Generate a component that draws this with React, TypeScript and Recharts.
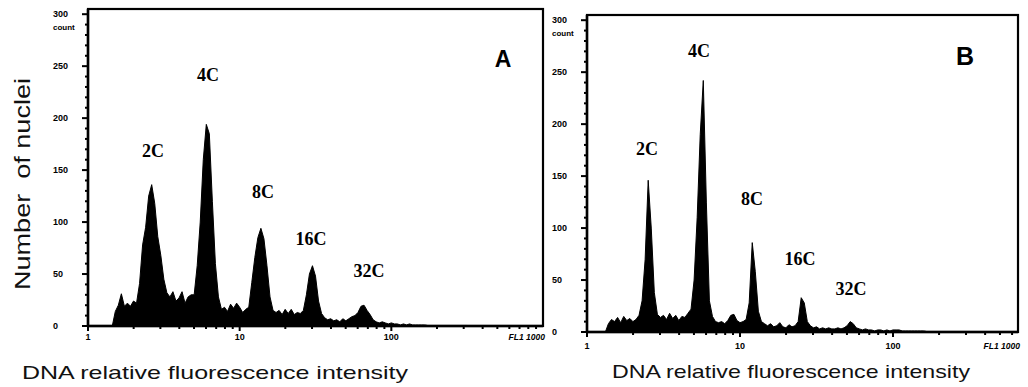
import React from 'react'
import { AreaChart, Area, XAxis, YAxis } from 'recharts'

// histogram channels: 50 log bins per decade, bin 0 = FL1 1
const BINS_PER_DECADE = 50

// panel A counts per bin
const countsA = [
  0, 0, 0, 0, 0, 0, 0, 0, 0, 14,
  20, 31, 19, 22, 19, 24, 22, 41, 78, 95,
  125, 136, 118, 86, 68, 45, 32, 28, 33, 24,
  27, 33, 22, 28, 30, 30, 58, 100, 160, 194,
  185, 120, 60, 28, 16, 18, 14, 21, 17, 22,
  18, 13, 16, 18, 42, 66, 85, 94, 84, 58,
  28, 15, 13, 15, 11, 16, 12, 16, 11, 13,
  12, 15, 30, 50, 58, 48, 24, 12, 8, 6,
  7, 5, 6, 4, 7, 5, 7, 9, 10, 13,
  19, 20, 15, 11, 6, 4, 3, 4, 3, 2,
  3, 2, 2, 1, 2, 1, 2, 1, 1, 1,
  1, 1, 0.5, 0.5, 0.5, 0.5, 0.5, 0.5, 0.5, 0.5,
  0.5, 0.5, 0.5, 0.5, 0.5, 0.5, 0, 0, 0, 0,
  0, 0, 0, 0, 0, 0, 0, 0, 0, 0,
  0, 0, 0, 0, 0, 0, 0, 0, 0, 0, 0,
]

// panel B counts per bin
const countsB = [
  0, 0, 0, 0, 0, 0, 0, 8, 12, 10,
  14, 9, 15, 11, 13, 10, 12, 16, 30, 70,
  146, 100, 38, 17, 14, 16, 12, 18, 13, 16,
  11, 15, 14, 18, 22, 50, 110, 190, 242, 125,
  30, 15, 10, 9, 10, 8, 11, 16, 17, 11,
  9, 10, 12, 28, 86, 58, 20, 10, 8, 6,
  8, 5, 6, 9, 5, 4, 7, 5, 6, 10,
  33, 28, 10, 6, 4, 5, 3, 4, 3, 4,
  3, 3, 4, 3, 4, 6, 10, 8, 4, 3,
  2, 3, 2, 2, 1, 2, 2, 1, 2, 1,
  2, 2, 2, 1, 1, 1, 1, 1, 1, 1,
  1, 0.5, 0.5, 0.5, 0.5, 0.5, 0.5, 0.5, 0.5, 0.5,
  0.5, 0.5, 0.5, 0.5, 0.5, 0.5, 0, 0, 0, 0,
  0, 0, 0, 0, 0, 0, 0, 0, 0, 0, 0,
]

const yTicks = [0, 10, 20, 30, 40, 50, 60, 70, 80, 90, 100, 110, 120, 130, 140, 150, 160, 170, 180, 190, 200, 210, 220, 230, 240, 250, 260, 270, 280, 290, 300]
const xTicksA = [1, 2, 3, 4, 5, 6, 7, 8, 9, 10, 20, 30, 40, 50, 60, 70, 80, 90, 100, 200, 300, 400, 500, 600, 700, 800, 900, 1000]
const B_MAX = 656
const xTicksB = [1, 2, 3, 4, 5, 6, 7, 8, 9, 10, 20, 30, 40, 50, 60, 70, 80, 90, 100, 200, 300, 400, 500, 600, B_MAX]
const decadeLabels = [1, 10, 100]
const Y_MAX = 305

const toRows = (counts: number[]) => counts.map((c, i) => ({ fl: 10 ** (i / BINS_PER_DECADE), count: c }))
const dataA = toRows(countsA)
const dataB = toRows(countsB)

const H = 387
const Y_AXIS_W = 40
const X_AXIS_H = 20
const panelA = { left: 0, width: 560, margin: { top: 9, right: 17, left: 48, bottom: 41 }, xMax: 1000, xTicks: xTicksA, labelDy: 14 }
const panelB = { left: 520, width: 508, margin: { top: 15, right: 10, left: 27, bottom: 35 }, xMax: B_MAX, xTicks: xTicksB, labelDy: 17 }

const tickFont = 'Liberation Sans, Arial, sans-serif'

const yTick = (axisX: number) => (props: any) => {
  const { y, payload } = props
  const v = payload.value
  const major = v % 50 === 0
  const len = major ? 6 : 3
  return (
    <g>
      <rect x={axisX - len} y={y - 1} width={len} height={2} fill="#000" />
      {major && (
        <text x={axisX - 35} y={y + 3} fontSize={9} fontWeight="bold" fontFamily={tickFont} fill="#000">{v}</text>
      )}
      {v === 300 && (
        <text x={axisX - 35} y={y + 16} fontSize={8} fontWeight="bold" fontFamily={tickFont} fill="#000">count</text>
      )}
    </g>
  )
}

const xTick = (axisY: number, labelDy: number, maxV: number) => (props: any) => {
  const { x, payload } = props
  const v = payload.value
  const major = decadeLabels.includes(v)
  if (v === maxV) {
    return (
      <g>
        <text x={x + 2} y={axisY + labelDy} textAnchor="end" fontSize={8.5} fontWeight="bold" fontStyle="italic" fontFamily={tickFont} fill="#000">FL1 1000</text>
      </g>
    )
  }
  return (
    <g>
      <rect x={x - 1} y={axisY} width={2} height={major ? 5 : 3} fill="#000" />
      {major && (
        <text x={x} y={axisY + labelDy} textAnchor="middle" fontSize={9} fontWeight="bold" fontFamily={tickFont} fill="#000">{v}</text>
      )}
    </g>
  )
}

type PanelCfg = typeof panelA

function Panel({ cfg, data }: { cfg: PanelCfg; data: { fl: number; count: number }[] }) {
  const { left, width, margin, xMax, xTicks, labelDy } = cfg
  const axisX = margin.left + Y_AXIS_W
  const axisY = H - margin.bottom - X_AXIS_H
  return (
    <div style={{ position: 'absolute', left, top: 0 }}>
      <AreaChart width={width} height={H} data={data} margin={margin}>
        <XAxis
          type="number" dataKey="fl" scale="log" domain={[1, xMax]} allowDataOverflow
          ticks={xTicks} interval={0} tickSize={0} tickMargin={0} height={X_AXIS_H}
          tickLine={false} axisLine={{ stroke: '#000', strokeWidth: 2.5 }}
          tick={xTick(axisY, labelDy, xMax)}
        />
        <YAxis
          type="number" domain={[0, Y_MAX]} ticks={yTicks} interval={0}
          width={Y_AXIS_W} tickSize={0} tickMargin={0} tickLine={false}
          axisLine={{ stroke: '#000', strokeWidth: 2.5 }} tick={yTick(axisX)}
        />
        <Area
          type="linear" dataKey="count" stroke="#000" strokeWidth={1} fill="#000" fillOpacity={1}
          dot={false} activeDot={false} isAnimationActive={false}
        />
      </AreaChart>
    </div>
  )
}

// plot frame drawn from the same layout constants as the charts
function Frame({ cfg }: { cfg: PanelCfg }) {
  const x0 = cfg.left + cfg.margin.left + Y_AXIS_W
  const x1 = cfg.left + cfg.width - cfg.margin.right
  const y0 = cfg.margin.top
  const y1 = H - cfg.margin.bottom - X_AXIS_H
  return (
    <rect x={x0} y={y0} width={x1 - x0} height={y1 - y0} fill="none" stroke="#000" strokeWidth={2.2} />
  )
}

const titleFont = 'Liberation Sans, Arial, sans-serif'
const peakFont = 'Liberation Serif, Times New Roman, serif'

export default function App() {
  return (
    <div style={{ position: 'absolute', left: 0, top: 0, width: 1028, height: H }}>
      <Panel cfg={panelA} data={dataA} />
      <Panel cfg={panelB} data={dataB} />
      <svg width={1028} height={H} style={{ position: 'absolute', left: 0, top: 0, pointerEvents: 'none' }}>
        <Frame cfg={panelA} />
        <Frame cfg={panelB} />
        <text transform="translate(30,290) rotate(-90)" fontSize={22} fontFamily={titleFont} fill="#111"
          textLength={212} lengthAdjust="spacingAndGlyphs" xmlSpace="preserve">Number  of nuclei</text>
        <text x={22} y={379} fontSize={18.5} fontFamily={titleFont} fill="#111" textLength={386} lengthAdjust="spacingAndGlyphs">DNA relative fluorescence intensity</text>
        <text x={612} y={378} fontSize={18.5} fontFamily={titleFont} fill="#111" textLength={358} lengthAdjust="spacingAndGlyphs">DNA relative fluorescence intensity</text>

        <g fontFamily={peakFont} fontWeight="bold" fontSize={18} fill="#000" textAnchor="middle">
          <text x={153} y={157}>2C</text>
          <text x={208} y={81}>4C</text>
          <text x={263} y={198}>8C</text>
          <text x={311} y={245}>16C</text>
          <text x={369} y={277}>32C</text>
          <text x={647} y={155}>2C</text>
          <text x={699} y={57}>4C</text>
          <text x={752} y={205}>8C</text>
          <text x={800} y={265}>16C</text>
          <text x={851} y={295}>32C</text>
        </g>

        <text x={503} y={67} textAnchor="middle" fontFamily={titleFont} fontWeight="bold" fontSize={23} fill="#000">A</text>
        <text x={965} y={65} textAnchor="middle" fontFamily={titleFont} fontWeight="bold" fontSize={25} fill="#000">B</text>
      </svg>
    </div>
  )
}
